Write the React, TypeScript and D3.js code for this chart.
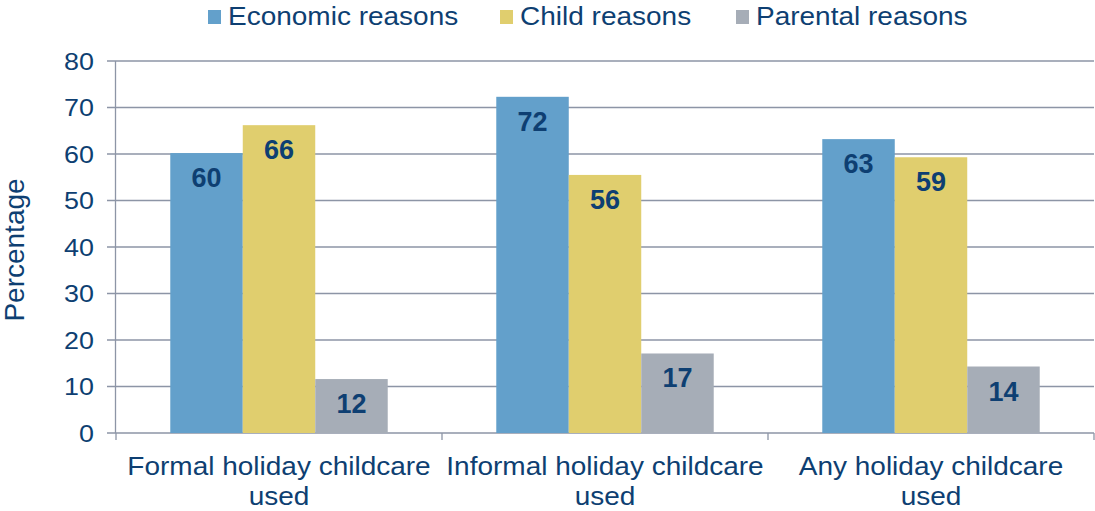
import React from "react";
import * as d3 from "d3";

const categories = ["Formal holiday childcare used", "Informal holiday childcare used", "Any holiday childcare used"];
const categoryLines = [["Formal holiday childcare", "used"], ["Informal holiday childcare", "used"], ["Any holiday childcare", "used"]];
const series = ["Economic reasons", "Child reasons", "Parental reasons"];
const economic = [60.2, 72.3, 63.2];
const child = [66.2, 55.5, 59.3];
const parental = [11.6, 17.1, 14.3];
const labels = [[60, 66, 12], [72, 56, 17], [63, 59, 14]];
const yTicks = [0, 10, 20, 30, 40, 50, 60, 70, 80];

const colors = ["#63a0cb", "#e0ce6e", "#a6adb7"];
const textColor = "#0e3f72";
const gridColor = "#8d95a6";
const font = "'Liberation Sans', Arial, sans-serif";
const SX = 1.12;

export default function App() {
  const W = 1095, H = 511;
  const left = 116, right = 1094, top = 61, bottom = 433;
  const y = d3.scaleLinear().domain([0, 80]).range([bottom, top]);
  const x0 = d3.scaleBand().domain(categories).range([left, right]).padding(0);
  const bw = x0.bandwidth();
  const x1 = d3.scaleBand().domain(series).range([bw * 0.1665, bw * 0.8335]).padding(0);
  const values = [economic, child, parental];

  const legendX = [208, 500, 736];

  return (
    <svg width={W} height={H} style={{ position: "absolute", left: 0, top: 0 }} fontFamily={font}>
      <rect width={W} height={H} fill="#ffffff" />
      {yTicks.map((t) => (
        <g key={t}>
          <line x1={107} x2={right} y1={y(t)} y2={y(t)} stroke={gridColor} strokeWidth={1.3} />
          <text transform={`translate(94,${y(t)}) scale(${SX},1)`} dy="0.36em" textAnchor="end" fontSize={24} fill={textColor}>{t}</text>
        </g>
      ))}
      <line x1={left - 0.5} x2={left - 0.5} y1={top} y2={bottom} stroke={gridColor} strokeWidth={1.3} />
      {[...categories.map((c) => x0(c) as number), right].map((xv, i) => (
        <line key={i} x1={xv} x2={xv} y1={bottom} y2={440} stroke={gridColor} strokeWidth={1.3} />
      ))}
      {categories.map((c, ci) => (
        <g key={c} transform={`translate(${x0(c)},0)`}>
          {series.map((s, si) => {
            const v = values[si][ci];
            const bx = x1(s) as number;
            return (
              <g key={s}>
                <rect x={bx} y={y(v)} width={x1.bandwidth()} height={bottom - y(v)} fill={colors[si]} />
                <text x={bx + x1.bandwidth() / 2} y={y(v) + 34} textAnchor="middle" fontSize={27} fontWeight="bold" fill={textColor}>
                  {labels[ci][si]}
                </text>
              </g>
            );
          })}
          {categoryLines[ci].map((ln, li) => (
            <text key={li} transform={`translate(${bw / 2},${475 + li * 30}) scale(${SX},1)`} textAnchor="middle" fontSize={25} fill={textColor}>{ln}</text>
          ))}
        </g>
      ))}
      {series.map((s, i) => (
        <g key={s}>
          <rect x={legendX[i]} y={10} width={13} height={14} fill={colors[i]} />
          <text transform={`translate(${legendX[i] + 20},25) scale(${SX},1)`} fontSize={25} fill={textColor}>{s}</text>
        </g>
      ))}
      <text transform={`translate(24,250) rotate(-90)`} textAnchor="middle" fontSize={28} fill={textColor}>Percentage</text>
    </svg>
  );
}
